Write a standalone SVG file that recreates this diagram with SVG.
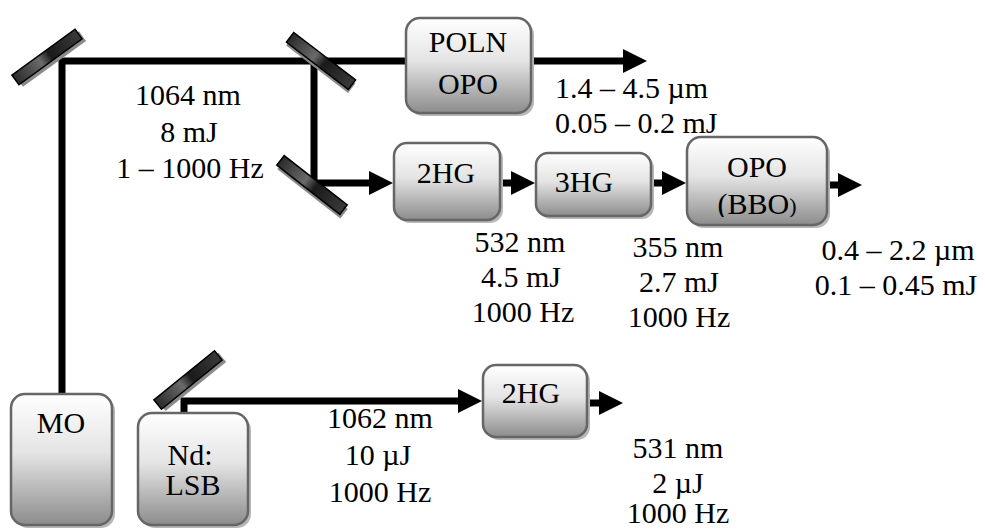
<svg xmlns="http://www.w3.org/2000/svg" width="985" height="530" viewBox="0 0 985 530">
  <defs>
    <linearGradient id="boxFill" x1="0" y1="0" x2="0" y2="1">
      <stop offset="0" stop-color="#ffffff"/>
      <stop offset="0.45" stop-color="#e4e4e4"/>
      <stop offset="1" stop-color="#8c8c8c"/>
    </linearGradient>
    <linearGradient id="mirrorFill" x1="0" y1="0" x2="1" y2="0">
      <stop offset="0" stop-color="#2a2a2a"/>
      <stop offset="0.4" stop-color="#6a6a6a"/>
      <stop offset="0.55" stop-color="#1a1a1a"/>
      <stop offset="1" stop-color="#3a3a3a"/>
    </linearGradient>
    <marker id="ah" markerUnits="userSpaceOnUse" markerWidth="26" markerHeight="26" viewBox="0 -13 26 26" refX="1" refY="0" orient="auto">
      <path d="M0,-12 L24,0 L0,12 z" fill="#000"/>
    </marker>
    <clipPath id="opoClip">
      <rect x="687" y="137" width="140" height="80"/>
    </clipPath>
  </defs>
  <style>
    .box { fill: url(#boxFill); stroke: #666; stroke-width: 2.5; }
    .shadow { fill: #b8b8b8; }
    .mirror { fill: url(#mirrorFill); stroke: #000; stroke-width: 1.5; }
    .mshadow { fill: #8a8a8a; }
    .beam { fill: none; stroke: #000; stroke-width: 7; stroke-linejoin: miter; }
    .arrow { fill: none; stroke: #000; stroke-width: 7; marker-end: url(#ah); }
    text { font-family: "Liberation Serif", "Times New Roman", serif; font-size: 30px; fill: #000; text-anchor: middle; }
    .left { text-anchor: start; }
  </style>

  <!-- beam paths -->
  <g id="connectors">
    <path class="beam" d="M62,394 V61 H406"/>
    <path class="arrow" d="M531,61 H624"/>
    <path class="arrow" d="M314,61 V183 H370"/>
    <path class="arrow" d="M500,183 H512"/>
    <path class="arrow" d="M651,183 H663"/>
    <path class="arrow" d="M827,185 H839"/>
    <path class="arrow" d="M184,413 V401 H459"/>
    <path class="arrow" d="M587,403 H600"/>
  </g>

  <!-- mirrors -->
  <g id="mirror-1" transform="translate(47,57) rotate(-36)">
    <rect class="mshadow" x="-37" y="-2" width="78" height="12"/>
    <rect class="mirror" x="-39" y="-6" width="78" height="12"/>
  </g>
  <g id="mirror-2" transform="translate(321,61) rotate(37.5)">
    <rect class="mshadow" x="-37" y="-3" width="78" height="12"/>
    <rect class="mirror" x="-39" y="-6" width="78" height="12"/>
  </g>
  <g id="mirror-3" transform="translate(312,185) rotate(38)">
    <rect class="mshadow" x="-37" y="-3" width="80" height="12"/>
    <rect class="mirror" x="-40" y="-6" width="80" height="12"/>
  </g>
  <g id="mirror-4" transform="translate(188,380) rotate(-39)">
    <rect class="mshadow" x="-37" y="-2" width="78" height="12"/>
    <rect class="mirror" x="-39" y="-6" width="78" height="12"/>
  </g>

  <!-- components -->
  <g id="poln-opo">
    <rect class="shadow" x="409" y="21" width="125" height="95" rx="14"/>
    <rect class="box" x="406" y="18" width="125" height="95" rx="14"/>
    <text x="468" y="52">POLN</text>
    <text x="468" y="94">OPO</text>
  </g>
  <g id="shg-top">
    <rect class="shadow" x="397" y="146" width="106" height="77" rx="13"/>
    <rect class="box" x="394" y="143" width="106" height="77" rx="13"/>
    <text x="446" y="183">2HG</text>
  </g>
  <g id="thg">
    <rect class="shadow" x="539" y="156" width="115" height="63" rx="12"/>
    <rect class="box" x="536" y="153" width="115" height="63" rx="12"/>
    <text x="584" y="192">3HG</text>
  </g>
  <g id="opo-bbo">
    <rect class="shadow" x="690" y="140" width="140" height="88" rx="14"/>
    <rect class="box" x="687" y="137" width="140" height="88" rx="14"/>
    <text x="757" y="177">OPO</text>
    <text x="757" y="214" clip-path="url(#opoClip)">(BBO<tspan font-size="22px" dy="-1">)</tspan></text>
  </g>
  <g id="mo">
    <rect class="shadow" x="14" y="397" width="101" height="131" rx="14"/>
    <rect class="box" x="11" y="394" width="101" height="131" rx="14"/>
    <text x="61" y="433">MO</text>
  </g>
  <g id="nd-lsb">
    <rect class="shadow" x="141" y="416" width="110" height="112" rx="14"/>
    <rect class="box" x="138" y="413" width="110" height="112" rx="14"/>
    <text x="190" y="465">Nd:</text>
    <text x="193" y="495">LSB</text>
  </g>
  <g id="shg-bottom">
    <rect class="shadow" x="486" y="368" width="104" height="72" rx="13"/>
    <rect class="box" x="483" y="365" width="104" height="72" rx="13"/>
    <text x="531" y="403">2HG</text>
  </g>

  <!-- beam parameters -->
  <g id="labels">
    <text x="188" y="105">1064 nm</text>
    <text x="189" y="142">8 mJ</text>
    <text x="190" y="178">1 – 1000 Hz</text>

    <text class="left" x="555" y="98">1.4 – 4.5 µm</text>
    <text class="left" x="555" y="133">0.05 – 0.2 mJ</text>

    <text x="520" y="252">532 nm</text>
    <text x="521" y="287">4.5 mJ</text>
    <text x="523" y="322">1000 Hz</text>

    <text x="678" y="257">355 nm</text>
    <text x="679" y="292">2.7 mJ</text>
    <text x="679" y="327">1000 Hz</text>

    <text x="898" y="260">0.4 – 2.2 µm</text>
    <text x="896" y="295">0.1 – 0.45 mJ</text>

    <text x="380" y="428">1062 nm</text>
    <text x="378" y="465">10 µJ</text>
    <text x="380" y="502">1000 Hz</text>

    <text x="678" y="458">531 nm</text>
    <text x="678" y="493">2 µJ</text>
    <text x="678" y="523">1000 Hz</text>
  </g>
</svg>
